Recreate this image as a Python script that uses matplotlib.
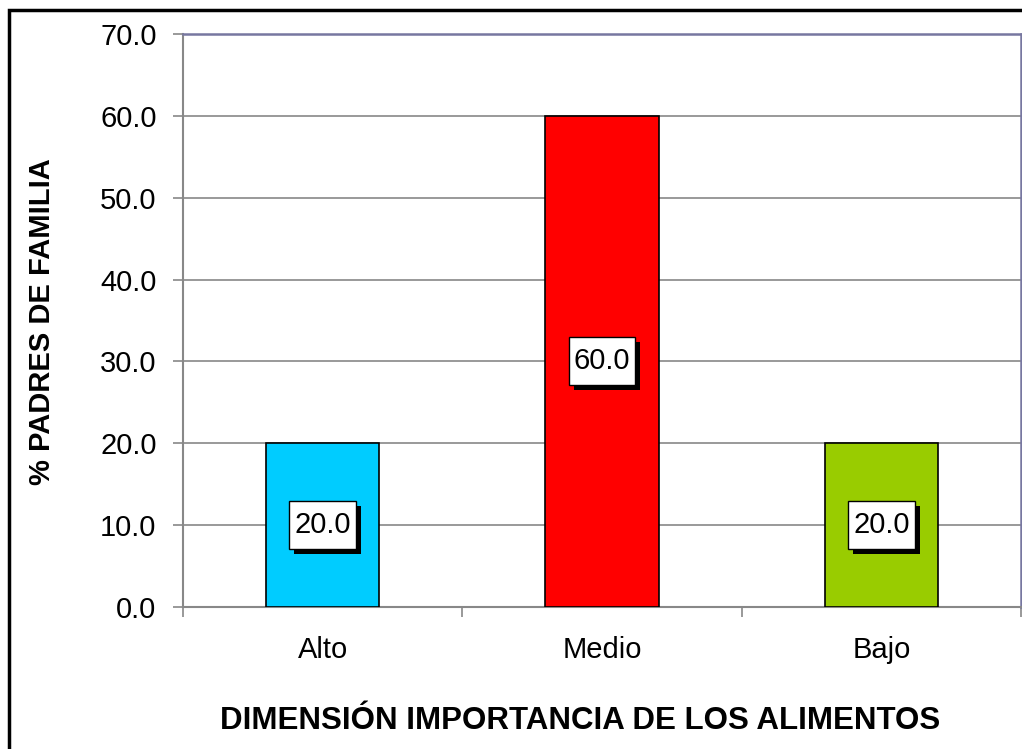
import matplotlib
matplotlib.use("Agg")
import matplotlib.pyplot as plt
import matplotlib.patheffects as pe
from matplotlib.patches import Rectangle
from matplotlib.path import Path

plt.rcParams['font.family'] = ['Liberation Sans', 'DejaVu Sans']

categories = ['Alto', 'Medio', 'Bajo']
values = [20.0, 60.0, 20.0]
colors = ['#00CCFF', '#FF0000', '#99CC00']
yticks = [0, 10, 20, 30, 40, 50, 60, 70]

W, H = 1022, 749
fig = plt.figure(figsize=(W / 100, H / 100), dpi=100)
# outer chart frame (cut off at right and bottom)
fig.patches.append(Rectangle((9 / W, -0.1), 1.2, (H - 10) / H + 0.1, transform=fig.transFigure,
                             fill=False, edgecolor='black', linewidth=2.5))

ax = fig.add_axes([183 / W, (H - 607) / H, (1021 - 183) / W, (607 - 34) / H])


def label_box(x0, y0, width, height, mutation_size):
    # box with more room above/below the text than at the sides
    px, py = 5, 10
    return Path([(x0 - px, y0 - py), (x0 + width + px, y0 - py), (x0 + width + px, y0 + height + py),
                 (x0 - px, y0 + height + py), (x0 - px, y0 - py)], closed=True)


x = list(range(len(categories)))
ax.bar(x, values, width=0.405, color=colors, edgecolor='black', linewidth=1.2, zorder=3)

ax.set_xlim(-0.5, 2.5)
ax.set_ylim(0, 70)
ax.set_yticks(yticks)
ax.set_yticklabels([f'{v:.1f}' for v in yticks], fontsize=21)
ax.yaxis.grid(True, color='#888888', linewidth=1.2, zorder=0)

ax.set_xticks(x)
ax.set_xticklabels(categories, fontsize=21)
ax.tick_params(axis='x', length=0, pad=21)
ax.set_xticks([-0.5, 0.5, 1.5, 2.5], minor=True)
ax.tick_params(axis='x', which='minor', length=7, color='#888888', width=1.2, direction='out')
ax.tick_params(axis='y', length=7, color='#888888', width=1.2, direction='out', pad=12)

for side in ['left', 'bottom']:
    ax.spines[side].set_color('#888888')
    ax.spines[side].set_linewidth(1.5)
for side in ['top', 'right']:
    ax.spines[side].set_color('#7777A0')
    ax.spines[side].set_linewidth(1.8)

for xi, v in zip(x, values):
    t = ax.annotate(f'{v:.1f}', (xi, v / 2), ha='center', va='center', fontsize=21, zorder=5,
                    bbox=dict(boxstyle=label_box, facecolor='white', edgecolor='black', linewidth=1))
    t.get_bbox_patch().set_path_effects([pe.SimplePatchShadow(offset=(3.6, -3.6), shadow_rgbFace='black', alpha=1),
                                         pe.Normal()])

ax.set_ylabel('% PADRES DE FAMILIA', fontsize=21, fontweight='bold')
ax.set_xlabel('DIMENSIÓN IMPORTANCIA DE LOS ALIMENTOS', fontsize=22.5, fontweight='bold')
ax.xaxis.set_label_coords((580 - 183) / (1021 - 183), -(706 - 607) / (607 - 34))
ax.yaxis.set_label_coords(-(183 - 56) / (1021 - 183), (607 - 322) / (607 - 34))

fig.savefig('out.png', dpi=100)
